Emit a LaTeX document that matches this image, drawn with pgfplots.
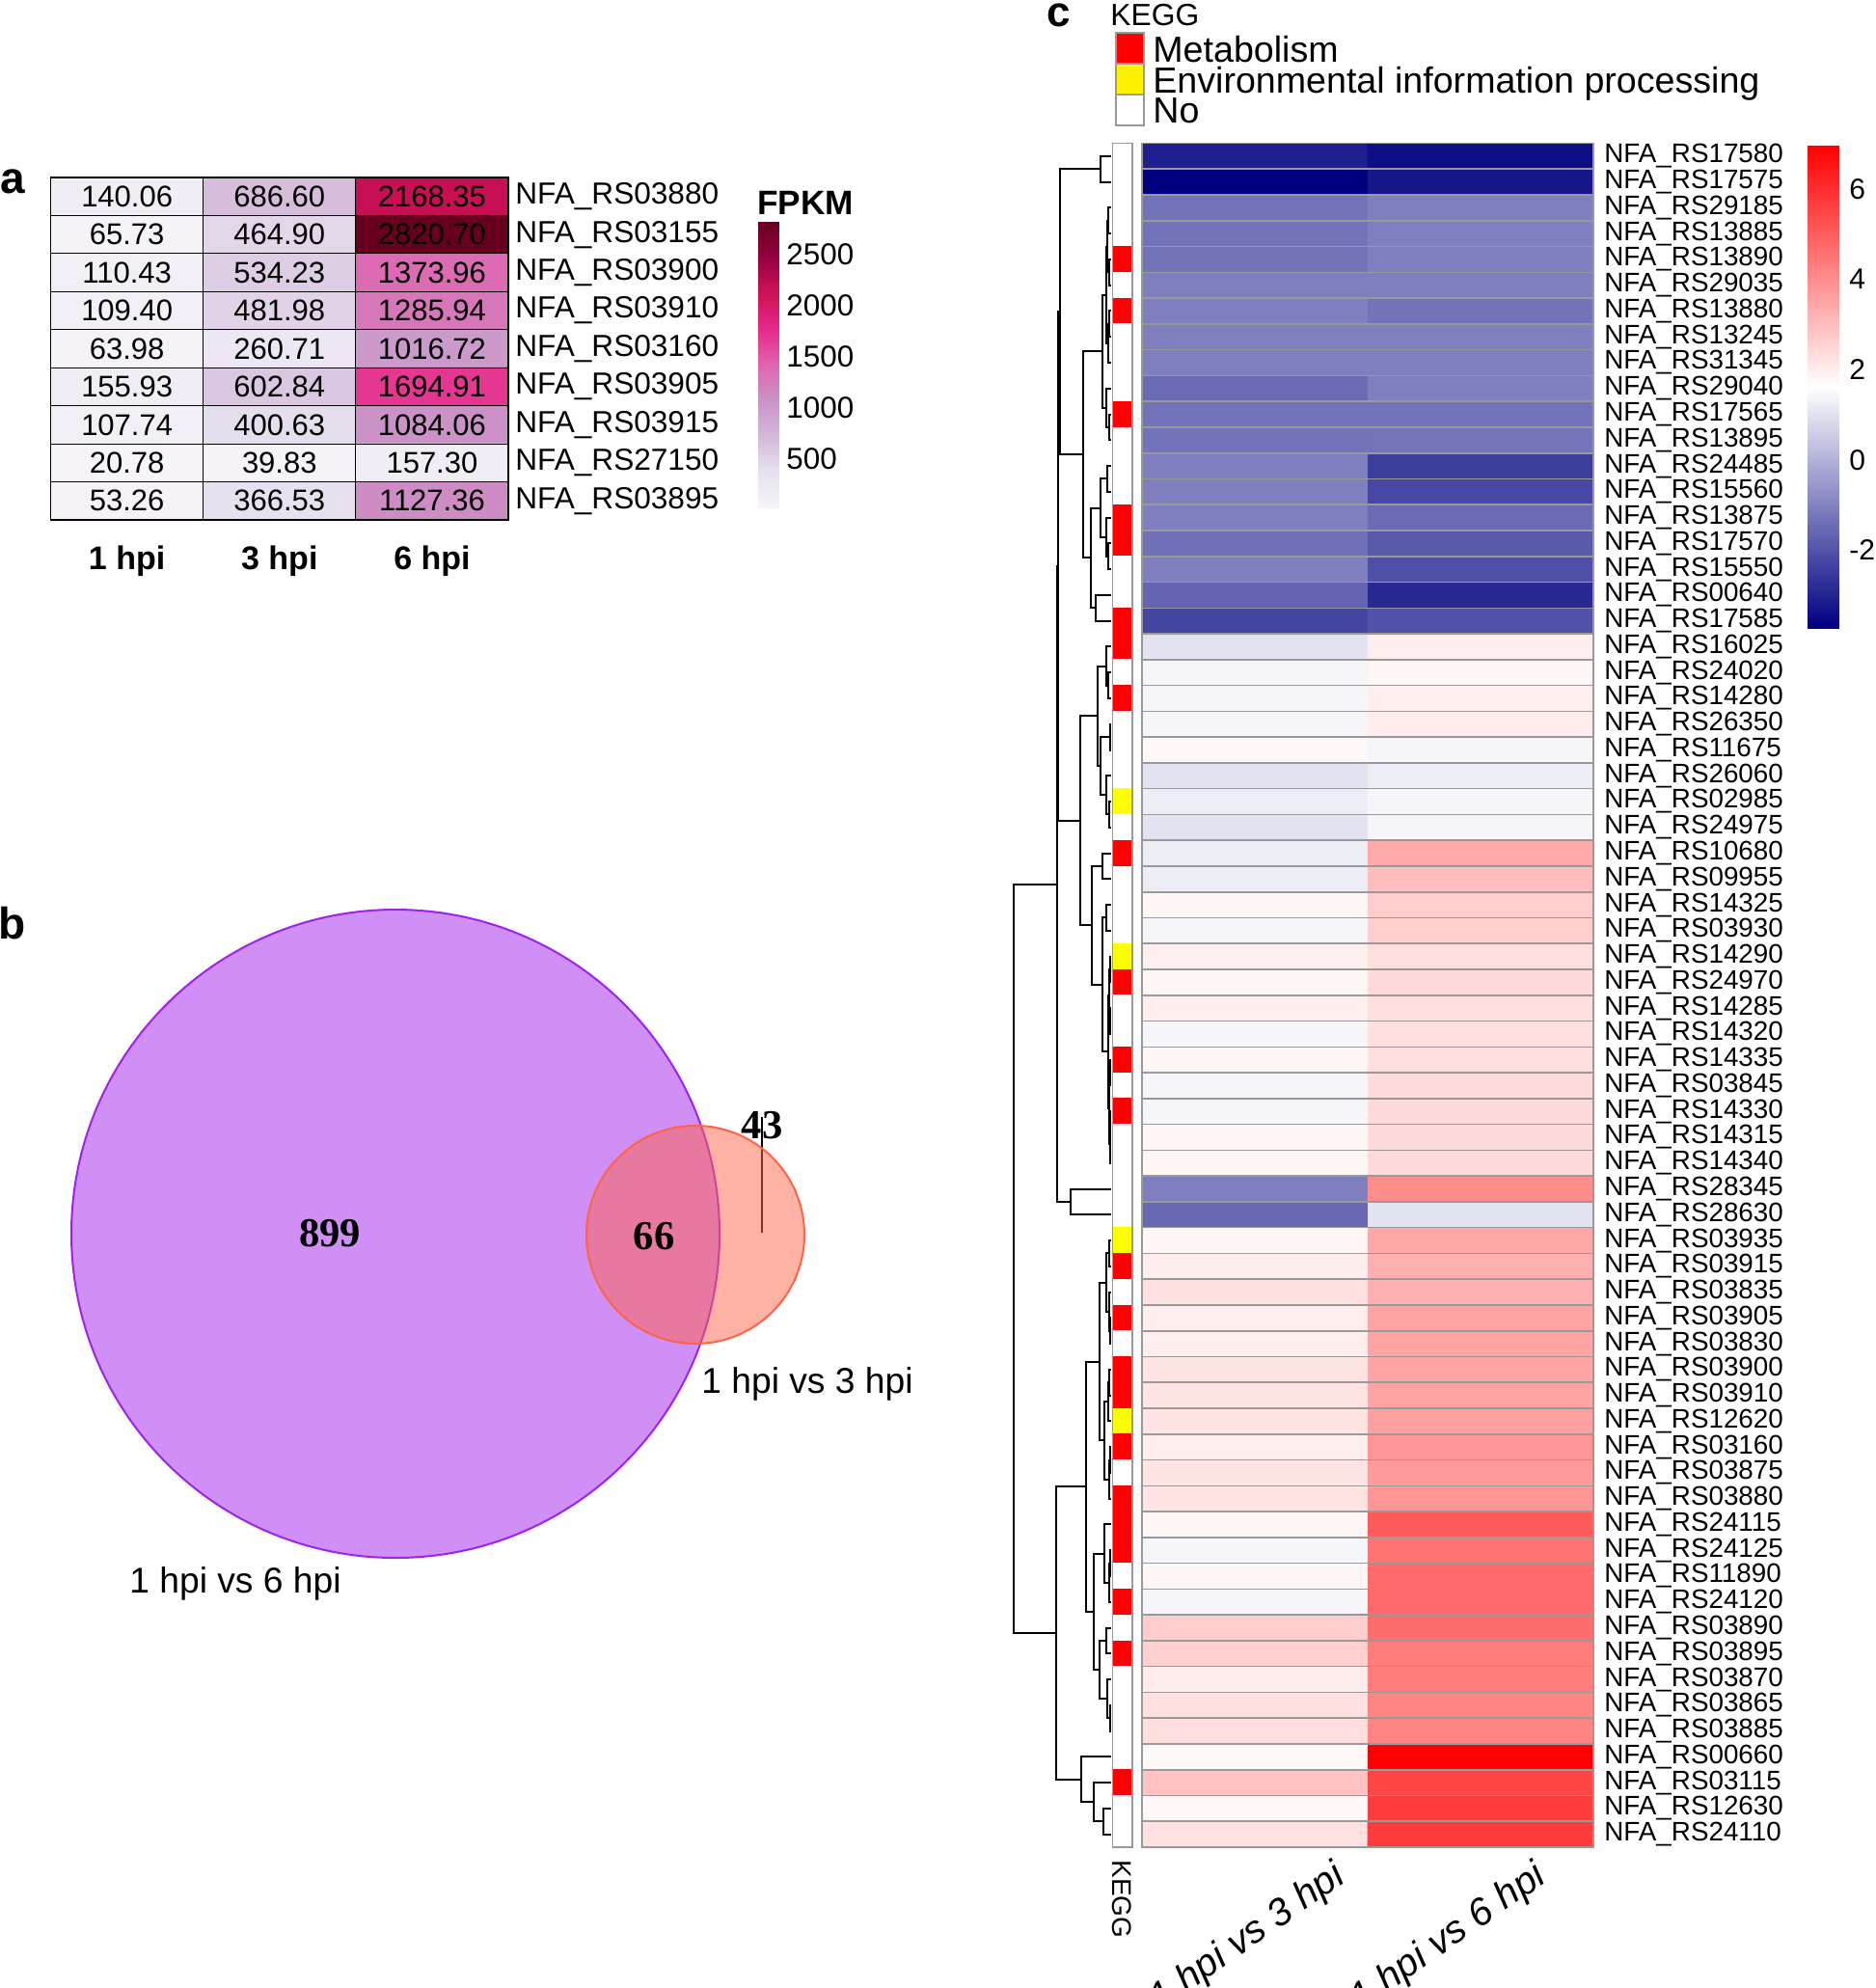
\documentclass[border=0pt]{standalone}
\usepackage{fontspec}
\setmainfont{Liberation Sans}
\newfontfamily\timesf{Liberation Serif}
\usepackage{pgfplots}
\pgfplotsset{compat=1.18}
\definecolor{gsix}{RGB}{153,153,153}
\definecolor{vpurple}{RGB}{160,32,240}
\definecolor{tomato}{RGB}{255,99,71}
\newcommand{\fs}[1]{\fontsize{#1}{#1}\selectfont}
\pgfplotsset{
  purdmap/.style={colormap={purd}{rgb255=(247,244,249) rgb255=(231,225,239) rgb255=(212,185,218) rgb255=(201,148,199) rgb255=(223,101,176) rgb255=(231,41,138) rgb255=(206,18,86) rgb255=(152,0,67) rgb255=(103,0,31)}},
  bwrmap/.style={colormap={bwr}{rgb255=(0,0,128) rgb255=(255,255,255) rgb255=(255,0,0)}},
}
\begin{document}
\begin{tikzpicture}
\path[use as bounding box] (0,0) rectangle (972pt,-1030.5pt);

% ---------------- panel a ----------------
\node[font=\fs{23}\bfseries] at (6.5pt,-94pt) {a};
\begin{axis}[at={(26.3pt,-92pt)}, anchor=north west, scale only axis,
  width=237.2pt, height=177.5pt,
  xmin=0.5, xmax=3.5, ymin=0.5, ymax=9.5, y dir=reverse,
  purdmap, point meta min=20.78, point meta max=2820.70,
  xtick={1,2,3}, xticklabels={1 hpi,3 hpi,6 hpi},
  ytick={1,...,9},
  yticklabels={NFA\_RS03880,NFA\_RS03155,NFA\_RS03900,NFA\_RS03910,NFA\_RS03160,NFA\_RS03905,NFA\_RS03915,NFA\_RS27150,NFA\_RS03895},
  yticklabel pos=right,
  minor xtick={1.5,2.5}, minor ytick={1.5,2.5,...,8.5},
  grid=minor, minor grid style={black, line width=0.6pt},
  axis line style={black, line width=0.6pt},
  major tick length=0pt, minor tick length=0pt,
  axis on top,
  xticklabel style={font=\fs{17}\bfseries, yshift=-10pt},
  yticklabel style={font=\fs{15.8}, anchor=west, inner sep=0pt, xshift=3.5pt},
]
\addplot[matrix plot*, mesh/cols=3, point meta=explicit] table[meta=c] {
x y c
1 1 140.06
2 1 686.60
3 1 2168.35
1 2 65.73
2 2 464.90
3 2 2820.70
1 3 110.43
2 3 534.23
3 3 1373.96
1 4 109.40
2 4 481.98
3 4 1285.94
1 5 63.98
2 5 260.71
3 5 1016.72
1 6 155.93
2 6 602.84
3 6 1694.91
1 7 107.74
2 7 400.63
3 7 1084.06
1 8 20.78
2 8 39.83
3 8 157.30
1 9 53.26
2 9 366.53
3 9 1127.36
};
\begin{scope}[every node/.style={font=\fs{15.5}}]
\node at (axis cs:1,1) {140.06}; \node at (axis cs:2,1) {686.60}; \node at (axis cs:3,1) {2168.35};
\node at (axis cs:1,2) {65.73};  \node at (axis cs:2,2) {464.90}; \node at (axis cs:3,2) {2820.70};
\node at (axis cs:1,3) {110.43}; \node at (axis cs:2,3) {534.23}; \node at (axis cs:3,3) {1373.96};
\node at (axis cs:1,4) {109.40}; \node at (axis cs:2,4) {481.98}; \node at (axis cs:3,4) {1285.94};
\node at (axis cs:1,5) {63.98};  \node at (axis cs:2,5) {260.71}; \node at (axis cs:3,5) {1016.72};
\node at (axis cs:1,6) {155.93}; \node at (axis cs:2,6) {602.84}; \node at (axis cs:3,6) {1694.91};
\node at (axis cs:1,7) {107.74}; \node at (axis cs:2,7) {400.63}; \node at (axis cs:3,7) {1084.06};
\node at (axis cs:1,8) {20.78};  \node at (axis cs:2,8) {39.83};  \node at (axis cs:3,8) {157.30};
\node at (axis cs:1,9) {53.26};  \node at (axis cs:2,9) {366.53}; \node at (axis cs:3,9) {1127.36};
\end{scope}
\end{axis}

% FPKM colour bar
\node[font=\fs{17.6}\bfseries] at (417.5pt,-105pt) {FPKM};
\begin{axis}[at={(393pt,-115pt)}, anchor=north west, scale only axis,
  width=10.5pt, height=148pt,
  xmin=0, xmax=1, ymin=20.78, ymax=2820.70,
  axis line style={draw=none}, tick style={draw=none},
  xtick=\empty, ytick={500,1000,1500,2000,2500},
  yticklabels={500,1000,1500,2000,2500}, yticklabel pos=right,
  yticklabel style={font=\fs{15.7}, anchor=west, inner sep=0pt, xshift=4pt},
  purdmap, point meta min=20.78, point meta max=2820.70]
\addplot[surf, shader=interp, mesh/cols=2, point meta=y] coordinates {(0,20.78) (1,20.78) (0,2820.70) (1,2820.70)};
\end{axis}

% ---------------- panel b ----------------
\node[font=\fs{23}\bfseries] at (6.5pt,-478.5pt) {b};
\begin{axis}[at={(0pt,-450pt)}, anchor=north west, scale only axis,
  width=480pt, height=400pt,
  xmin=0, xmax=960, ymin=900, ymax=1700, y dir=reverse, hide axis, clip=false]
\addplot[only marks, mark=*, mark size=168pt, mark options={fill=vpurple, fill opacity=0.5, draw=vpurple, line width=1pt}] coordinates {(410,1279)};
\addplot[only marks, mark=*, mark size=56.5pt, mark options={fill=tomato, fill opacity=0.5, draw=tomato, line width=1pt}] coordinates {(721,1280)};
\addplot[black, line width=0.6pt] coordinates {(790,1158) (790,1278)};
\end{axis}
\node[font=\timesf\bfseries\fs{21.3}] at (171pt,-639.5pt) {899};
\node[font=\timesf\bfseries\fs{21.3}] at (339pt,-641pt) {66};
\node[font=\timesf\bfseries\fs{21.3}] at (395pt,-583.5pt) {43};
\node[font=\fs{18.6}, anchor=west, inner sep=0pt] at (363.5pt,-717.5pt) {1 hpi vs 3 hpi};
\node[font=\fs{18.6}, anchor=west, inner sep=0pt] at (67pt,-821pt) {1 hpi vs 6 hpi};

% ---------------- panel c ----------------
\node[font=\fs{22}\bfseries, anchor=base, inner sep=0pt] at (549pt,-13.5pt) {c};
\node[font=\fs{15.9}, anchor=base west, inner sep=0pt] at (575.5pt,-13pt) {KEGG};
\filldraw[fill=red, draw=gsix, line width=0.8pt] (578.5pt,-17pt) rectangle (593pt,-33pt);
\filldraw[fill=yellow, draw=gsix, line width=0.8pt] (578.5pt,-33pt) rectangle (593pt,-49pt);
\filldraw[fill=white, draw=gsix, line width=0.8pt] (578.5pt,-49pt) rectangle (593pt,-65pt);
\node[font=\fs{18.8}, anchor=base west, inner sep=0pt] at (597.5pt,-32pt) {Metabolism};
\node[font=\fs{18.8}, anchor=base west, inner sep=0pt] at (597.5pt,-48pt) {Environmental information processing};
\node[font=\fs{18.8}, anchor=base west, inner sep=0pt] at (597.5pt,-63.8pt) {No};

% dendrogram
\begin{axis}[at={(524pt,-74.25pt)}, anchor=north west, scale only axis,
  width=52pt, height=883.25pt,
  xmin=0, xmax=104, ymin=0.5, ymax=66.5, y dir=reverse, x dir=reverse,
  hide axis, clip=false]
\addplot[black, line width=1pt, unbounded coords=jump] coordinates {
(0,1)(11.3,1)(11.3,2)(0,2)(nan,nan)
(0,3)(3,3)(3,4)(0,4)(nan,nan)
(0,5)(2,5)(2,6)(0,6)(nan,nan)
(3,3.5)(4.5,3.5)(4.5,5.5)(2,5.5)(nan,nan)
(0,7)(2,7)(2,8)(0,8)(nan,nan)
(2,7.5)(3,7.5)(3,9)(0,9)(nan,nan)
(4.5,4.5)(5.5,4.5)(5.5,8.25)(3,8.25)(nan,nan)
(0,11)(2,11)(2,12)(0,12)(nan,nan)
(0,10)(4.7,10)(4.7,11.5)(2,11.5)(nan,nan)
(5.5,6.375)(9,6.375)(9,10.75)(4.7,10.75)(nan,nan)
(0,13)(4,13)(4,14)(0,14)(nan,nan)
(0,16)(3,16)(3,17)(0,17)(nan,nan)
(0,15)(4.7,15)(4.7,16.5)(3,16.5)(nan,nan)
(4,13.5)(11.3,13.5)(11.3,15.75)(4.7,15.75)(nan,nan)
(0,18)(16.3,18)(16.3,19)(0,19)(nan,nan)
(11.3,14.625)(20.7,14.625)(20.7,18.5)(16.3,18.5)(nan,nan)
(9,8.5625)(29.3,8.5625)(29.3,16.5625)(20.7,16.5625)(nan,nan)
(11.3,1.5)(53.3,1.5)(53.3,12.5625)(29.3,12.5625)(nan,nan)
(0,21)(3,21)(3,22)(0,22)(nan,nan)
(0,20)(4.7,20)(4.7,21.5)(3,21.5)(nan,nan)
(0,23)(1,23)(1,24)(0,24)(nan,nan)
(0,26)(2,26)(2,27)(0,27)(nan,nan)
(0,25)(4.7,25)(4.7,26.5)(2,26.5)(nan,nan)
(1,23.5)(10.7,23.5)(10.7,25.75)(4.7,25.75)(nan,nan)
(4.7,20.75)(14,20.75)(14,24.625)(10.7,24.625)(nan,nan)
(0,28)(9,28)(9,29)(0,29)(nan,nan)
(0,30)(4.7,30)(4.7,31)(0,31)(nan,nan)
(0,32)(1.5,32)(1.5,33)(0,33)(nan,nan)
(0,34)(1,34)(1,35)(0,35)(nan,nan)
(1.5,32.5)(2.5,32.5)(2.5,34.5)(1,34.5)(nan,nan)
(0,36)(1,36)(1,37)(0,37)(nan,nan)
(0,38)(0.7,38)(0.7,39)(0,39)(nan,nan)
(0.7,38.5)(1.2,38.5)(1.2,40)(0,40)(nan,nan)
(1,36.5)(2,36.5)(2,39.25)(1.2,39.25)(nan,nan)
(2.5,33.5)(3.5,33.5)(3.5,37.875)(2,37.875)(nan,nan)
(4.7,30.5)(9,30.5)(9,35.6875)(3.5,35.6875)(nan,nan)
(9,28.5)(20,28.5)(20,33.094)(9,33.094)(nan,nan)
(14,22.6875)(31.7,22.6875)(31.7,30.797)(20,30.797)(nan,nan)
(0,41)(42.3,41)(42.3,42)(0,42)(nan,nan)
(53.3,7.031)(55.5,7.031)(55.5,26.742)(31.7,26.742)(nan,nan)
(55.5,16.886)(55.9,16.886)(55.9,41.5)(42.3,41.5)(nan,nan)
(0,43)(2,43)(2,44)(0,44)(nan,nan)
(0,46)(1.5,46)(1.5,47)(0,47)(nan,nan)
(0,45)(2.5,45)(2.5,46.5)(1.5,46.5)(nan,nan)
(2,43.5)(4.7,43.5)(4.7,45.75)(2.5,45.75)(nan,nan)
(0,48)(2.3,48)(2.3,49)(0,49)(nan,nan)
(2.3,48.5)(3,48.5)(3,50)(0,50)(nan,nan)
(0,51)(1.5,51)(1.5,52)(0,52)(nan,nan)
(1.5,51.5)(2.5,51.5)(2.5,53)(0,53)(nan,nan)
(3,49.25)(7.3,49.25)(7.3,52.25)(2.5,52.25)(nan,nan)
(4.7,44.625)(11.7,44.625)(11.7,50.75)(7.3,50.75)(nan,nan)
(0,55)(1.5,55)(1.5,56)(0,56)(nan,nan)
(1.5,55.5)(2.5,55.5)(2.5,57)(0,57)(nan,nan)
(0,54)(7.3,54)(7.3,56.25)(2.5,56.25)(nan,nan)
(0,58)(4.7,58)(4.7,59)(0,59)(nan,nan)
(0,61)(1.5,61)(1.5,62)(0,62)(nan,nan)
(0,60)(4.5,60)(4.5,61.5)(1.5,61.5)(nan,nan)
(4.7,58.5)(11.7,58.5)(11.7,60.75)(4.5,60.75)(nan,nan)
(7.3,55.125)(18.3,55.125)(18.3,59.625)(11.7,59.625)(nan,nan)
(11.7,47.6875)(25.7,47.6875)(25.7,57.375)(18.3,57.375)(nan,nan)
(0,65)(8,65)(8,66)(0,66)(nan,nan)
(0,64)(18.3,64)(18.3,65.5)(8,65.5)(nan,nan)
(0,63)(30.7,63)(30.7,64.75)(18.3,64.75)(nan,nan)
(25.7,52.53)(57.3,52.53)(57.3,63.875)(30.7,63.875)(nan,nan)
(55.9,29.193)(100.7,29.193)(100.7,58.2)(57.3,58.2)
};
\end{axis}

% KEGG annotation column
\begin{axis}[at={(576.75pt,-74.25pt)}, anchor=north west, scale only axis,
  width=10.1pt, height=883.25pt,
  xmin=0.5, xmax=2.5, ymin=0.5, ymax=66.5, y dir=reverse,
  colormap={kegg}{rgb255=(255,255,255) rgb255=(255,0,0) rgb255=(255,255,0)},
  point meta min=0, point meta max=2,
  xtick=\empty, ytick=\empty,
  minor ytick={1.5,2.5,...,65.5}, grid=minor,
  minor grid style={gsix, line width=0.9pt},
  axis line style={gsix, line width=0.9pt},
  minor tick length=0pt, major tick length=0pt, axis on top]
\addplot[matrix plot*, mesh/cols=2, point meta=explicit] table[meta=k] {
x y k
1 1 0
2 1 0
1 2 0
2 2 0
1 3 0
2 3 0
1 4 0
2 4 0
1 5 1
2 5 1
1 6 0
2 6 0
1 7 1
2 7 1
1 8 0
2 8 0
1 9 0
2 9 0
1 10 0
2 10 0
1 11 1
2 11 1
1 12 0
2 12 0
1 13 0
2 13 0
1 14 0
2 14 0
1 15 1
2 15 1
1 16 1
2 16 1
1 17 0
2 17 0
1 18 0
2 18 0
1 19 1
2 19 1
1 20 1
2 20 1
1 21 0
2 21 0
1 22 1
2 22 1
1 23 0
2 23 0
1 24 0
2 24 0
1 25 0
2 25 0
1 26 2
2 26 2
1 27 0
2 27 0
1 28 1
2 28 1
1 29 0
2 29 0
1 30 0
2 30 0
1 31 0
2 31 0
1 32 2
2 32 2
1 33 1
2 33 1
1 34 0
2 34 0
1 35 0
2 35 0
1 36 1
2 36 1
1 37 0
2 37 0
1 38 1
2 38 1
1 39 0
2 39 0
1 40 0
2 40 0
1 41 0
2 41 0
1 42 0
2 42 0
1 43 2
2 43 2
1 44 1
2 44 1
1 45 0
2 45 0
1 46 1
2 46 1
1 47 0
2 47 0
1 48 1
2 48 1
1 49 1
2 49 1
1 50 2
2 50 2
1 51 1
2 51 1
1 52 0
2 52 0
1 53 1
2 53 1
1 54 1
2 54 1
1 55 1
2 55 1
1 56 0
2 56 0
1 57 1
2 57 1
1 58 0
2 58 0
1 59 1
2 59 1
1 60 0
2 60 0
1 61 0
2 61 0
1 62 0
2 62 0
1 63 0
2 63 0
1 64 1
2 64 1
1 65 0
2 65 0
1 66 0
2 66 0
};
\end{axis}

% main heatmap
\begin{axis}[at={(592pt,-74.25pt)}, anchor=north west, scale only axis,
  width=234pt, height=883.25pt,
  xmin=0.5, xmax=2.5, ymin=0.5, ymax=66.5, y dir=reverse,
  bwrmap, point meta min=-3.72, point meta max=6.96,
  xtick=\empty,
  ytick={1,...,66},
  yticklabels={NFA\_RS17580,NFA\_RS17575,NFA\_RS29185,NFA\_RS13885,NFA\_RS13890,NFA\_RS29035,NFA\_RS13880,NFA\_RS13245,NFA\_RS31345,NFA\_RS29040,NFA\_RS17565,NFA\_RS13895,NFA\_RS24485,NFA\_RS15560,NFA\_RS13875,NFA\_RS17570,NFA\_RS15550,NFA\_RS00640,NFA\_RS17585,NFA\_RS16025,NFA\_RS24020,NFA\_RS14280,NFA\_RS26350,NFA\_RS11675,NFA\_RS26060,NFA\_RS02985,NFA\_RS24975,NFA\_RS10680,NFA\_RS09955,NFA\_RS14325,NFA\_RS03930,NFA\_RS14290,NFA\_RS24970,NFA\_RS14285,NFA\_RS14320,NFA\_RS14335,NFA\_RS03845,NFA\_RS14330,NFA\_RS14315,NFA\_RS14340,NFA\_RS28345,NFA\_RS28630,NFA\_RS03935,NFA\_RS03915,NFA\_RS03835,NFA\_RS03905,NFA\_RS03830,NFA\_RS03900,NFA\_RS03910,NFA\_RS12620,NFA\_RS03160,NFA\_RS03875,NFA\_RS03880,NFA\_RS24115,NFA\_RS24125,NFA\_RS11890,NFA\_RS24120,NFA\_RS03890,NFA\_RS03895,NFA\_RS03870,NFA\_RS03865,NFA\_RS03885,NFA\_RS00660,NFA\_RS03115,NFA\_RS12630,NFA\_RS24110},
  yticklabel pos=right,
  yticklabel style={font=\fs{13.9}, anchor=west, inner sep=0pt, xshift=5.5pt},
  minor xtick={1.5}, minor ytick={1.5,2.5,...,65.5}, grid=minor,
  minor grid style={gsix, line width=0.8pt},
  axis line style={gsix, line width=0.8pt},
  minor tick length=0pt, major tick length=0pt, axis on top]
\addplot[matrix plot*, mesh/cols=2, point meta=explicit] table[meta=c] {
x y c
1 1 -3.07
2 1 -3.45
1 2 -3.72
2 2 -3.25
1 3 -1.32
2 3 -1.05
1 4 -1.32
2 4 -1.05
1 5 -1.32
2 5 -1.05
1 6 -1.05
2 6 -1.05
1 7 -1.05
2 7 -1.32
1 8 -1.05
2 8 -1.05
1 9 -1.05
2 9 -1.05
1 10 -1.48
2 10 -1.05
1 11 -1.32
2 11 -1.32
1 12 -1.30
2 12 -1.28
1 13 -1.05
2 13 -2.44
1 14 -1.05
2 14 -2.22
1 15 -1.05
2 15 -1.48
1 16 -1.38
2 16 -1.85
1 17 -1.05
2 17 -2.06
1 18 -1.63
2 18 -2.87
1 19 -2.28
2 19 -2.02
1 20 1.03
2 20 1.98
1 21 1.43
2 21 1.81
1 22 1.43
2 22 1.98
1 23 1.43
2 23 2.02
1 24 1.76
2 24 1.43
1 25 1.03
2 25 1.25
1 26 1.25
2 26 1.43
1 27 1.03
2 27 1.43
1 28 1.25
2 28 3.40
1 29 1.25
2 29 2.98
1 30 1.81
2 30 2.67
1 31 1.43
2 31 2.67
1 32 1.98
2 32 2.31
1 33 1.81
2 33 2.39
1 34 1.98
2 34 2.31
1 35 1.43
2 35 2.31
1 36 1.81
2 36 2.31
1 37 1.43
2 37 2.39
1 38 1.43
2 38 2.39
1 39 1.81
2 39 2.39
1 40 1.81
2 40 2.39
1 41 -1.05
2 41 4.02
1 42 -1.52
2 42 1.03
1 43 1.81
2 43 3.44
1 44 1.98
2 44 3.30
1 45 2.25
2 45 3.30
1 46 1.98
2 46 3.50
1 47 1.98
2 47 3.50
1 48 2.19
2 48 3.50
1 49 2.19
2 49 3.50
1 50 2.19
2 50 3.61
1 51 1.98
2 51 3.82
1 52 2.19
2 52 3.71
1 53 2.19
2 53 3.82
1 54 1.81
2 54 5.08
1 55 1.43
2 55 4.55
1 56 1.81
2 56 4.76
1 57 1.43
2 57 4.76
1 58 2.67
2 58 4.66
1 59 2.60
2 59 4.34
1 60 2.02
2 60 4.34
1 61 2.25
2 61 4.19
1 62 2.31
2 62 4.19
1 63 1.76
2 63 6.96
1 64 2.88
2 64 5.49
1 65 1.76
2 65 5.70
1 66 2.25
2 66 5.70
};
\end{axis}

% colour bar c
\begin{axis}[at={(937pt,-75.5pt)}, anchor=north west, scale only axis,
  width=16pt, height=250pt,
  xmin=0, xmax=1, ymin=-3.72, ymax=6.96,
  axis line style={draw=none}, tick style={draw=none},
  xtick=\empty, ytick={-2,0,2,4,6}, yticklabels={-2,0,2,4,6},
  yticklabel pos=right,
  yticklabel style={font=\fs{15}, anchor=west, inner sep=0pt, xshift=5.5pt},
  bwrmap, point meta min=-3.72, point meta max=6.96]
\addplot[surf, shader=interp, mesh/cols=2, point meta=y] coordinates {(0,-3.72) (1,-3.72) (0,6.96) (1,6.96)};
\end{axis}

% bottom labels of c
\node[font=\fs{14}, rotate=-90, anchor=west, inner sep=0pt] at (581.5pt,-964pt) {KEGG};
\node[font=\fs{20}\itshape, rotate=35, anchor=north east, inner sep=0pt] at (690pt,-963pt) {1 hpi vs 3 hpi};
\node[font=\fs{20}\itshape, rotate=35, anchor=north east, inner sep=0pt] at (794pt,-963pt) {1 hpi vs 6 hpi};
\end{tikzpicture}
\end{document}
